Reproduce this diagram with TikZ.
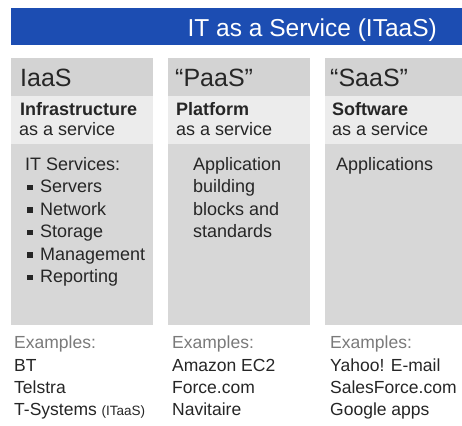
\documentclass[tikz,border=0pt]{standalone}
\usepackage{fontspec}
\setmainfont{Liberation Sans}
\definecolor{barblue}{HTML}{1C4DB2}
\definecolor{hdrgray}{HTML}{D3D3D3}
\definecolor{subgray}{HTML}{ECECEC}
\definecolor{bodygray}{HTML}{D7D7D7}
\definecolor{txt}{HTML}{262626}
\definecolor{extxt}{HTML}{7A7A7A}
\begin{document}
\begin{tikzpicture}[x=1pt,y=-1pt,
  lbl/.style={inner sep=0pt,anchor=base west,text=txt},
  titletxt/.style={lbl,text=white,font=\fontsize{24.5}{26}\selectfont},
  headtxt/.style={lbl,font=\fontsize{25}{28}\selectfont},
  subbold/.style={lbl,font=\fontsize{18}{20}\selectfont\bfseries},
  subtxt/.style={lbl,font=\fontsize{18}{20}\selectfont},
  bodytxt/.style={lbl,font=\fontsize{18}{20}\selectfont},
  extitle/.style={lbl,text=extxt,font=\fontsize{17.5}{20}\selectfont},
  extxtstyle/.style={lbl,font=\fontsize{17.5}{20}\selectfont}]
\useasboundingbox[fill=white] (0,0) rectangle (462,425);
% blue title bar
\fill[barblue] (11,8) rectangle (462,45);
\node[titletxt,anchor=base east] (title) at (437,37) {IT as a Service (ITaaS)};
% columns
\foreach \l/\r/\n in {11/153/a,168/310/b,325/462/c}{
  \fill[hdrgray] (\l,58) rectangle (\r,96);
  \fill[subgray] (\l,96) rectangle (\r,144);
  \fill[bodygray] (\l,144) rectangle (\r,325);
}
% headers
\node[headtxt] (h1) at (20,86) {IaaS};
\node[headtxt] (h2) at (175,86) {“PaaS”};
\node[headtxt] (h3) at (330,86) {“SaaS”};
% subtitles
\node[subbold] (s1a) at (20,115) {Infrastructure};
\node[subtxt]  (s1b) at (19,135) {as a service};
\node[subbold] (s2a) at (176,115) {Platform};
\node[subtxt]  (s2b) at (176,135) {as a service};
\node[subbold] (s3a) at (332,115) {Software};
\node[subtxt]  (s3b) at (332,135) {as a service};
% body column 1
\node[bodytxt] (b1) at (25,170) {IT Services:};
\foreach \t [count=\i] in {Servers,Network,Storage,Management,Reporting}{
  \node[bodytxt] (b1i\i) at (27,{170+22.5*\i}) {\rule[2.5pt]{5.5pt}{5.5pt}\hspace{7.5pt}\t};
}
% body column 2
\foreach \t [count=\i from 0] in {Application,building,blocks and,standards}{
  \node[bodytxt] (b2i\i) at (193,{170+22.5*\i}) {\t};
}
% body column 3
\node[bodytxt] (b3) at (336,170) {Applications};
% examples
\node[extitle] (e1) at (14,348) {Examples:};
\node[extxtstyle] (e1a) at (14,371) {BT};
\node[extxtstyle] (e1b) at (14,393) {Telstra};
\node[extxtstyle] (e1c) at (14,415) {T-Systems {\fontsize{13.5}{14}\selectfont(ITaaS)}};
\node[extitle] (e2) at (172,348) {Examples:};
\node[extxtstyle] (e2a) at (172,371) {Amazon EC2};
\node[extxtstyle] (e2b) at (172,393) {Force.com};
\node[extxtstyle] (e2c) at (172,415) {Navitaire};
\node[extitle] (e3) at (330,348) {Examples:};
\node[extxtstyle] (e3a) at (330,371) {Yahoo! E-mail};
\node[extxtstyle] (e3b) at (330,393) {SalesForce.com};
\node[extxtstyle] (e3c) at (330,415) {Google apps};
\end{tikzpicture}
\end{document}
